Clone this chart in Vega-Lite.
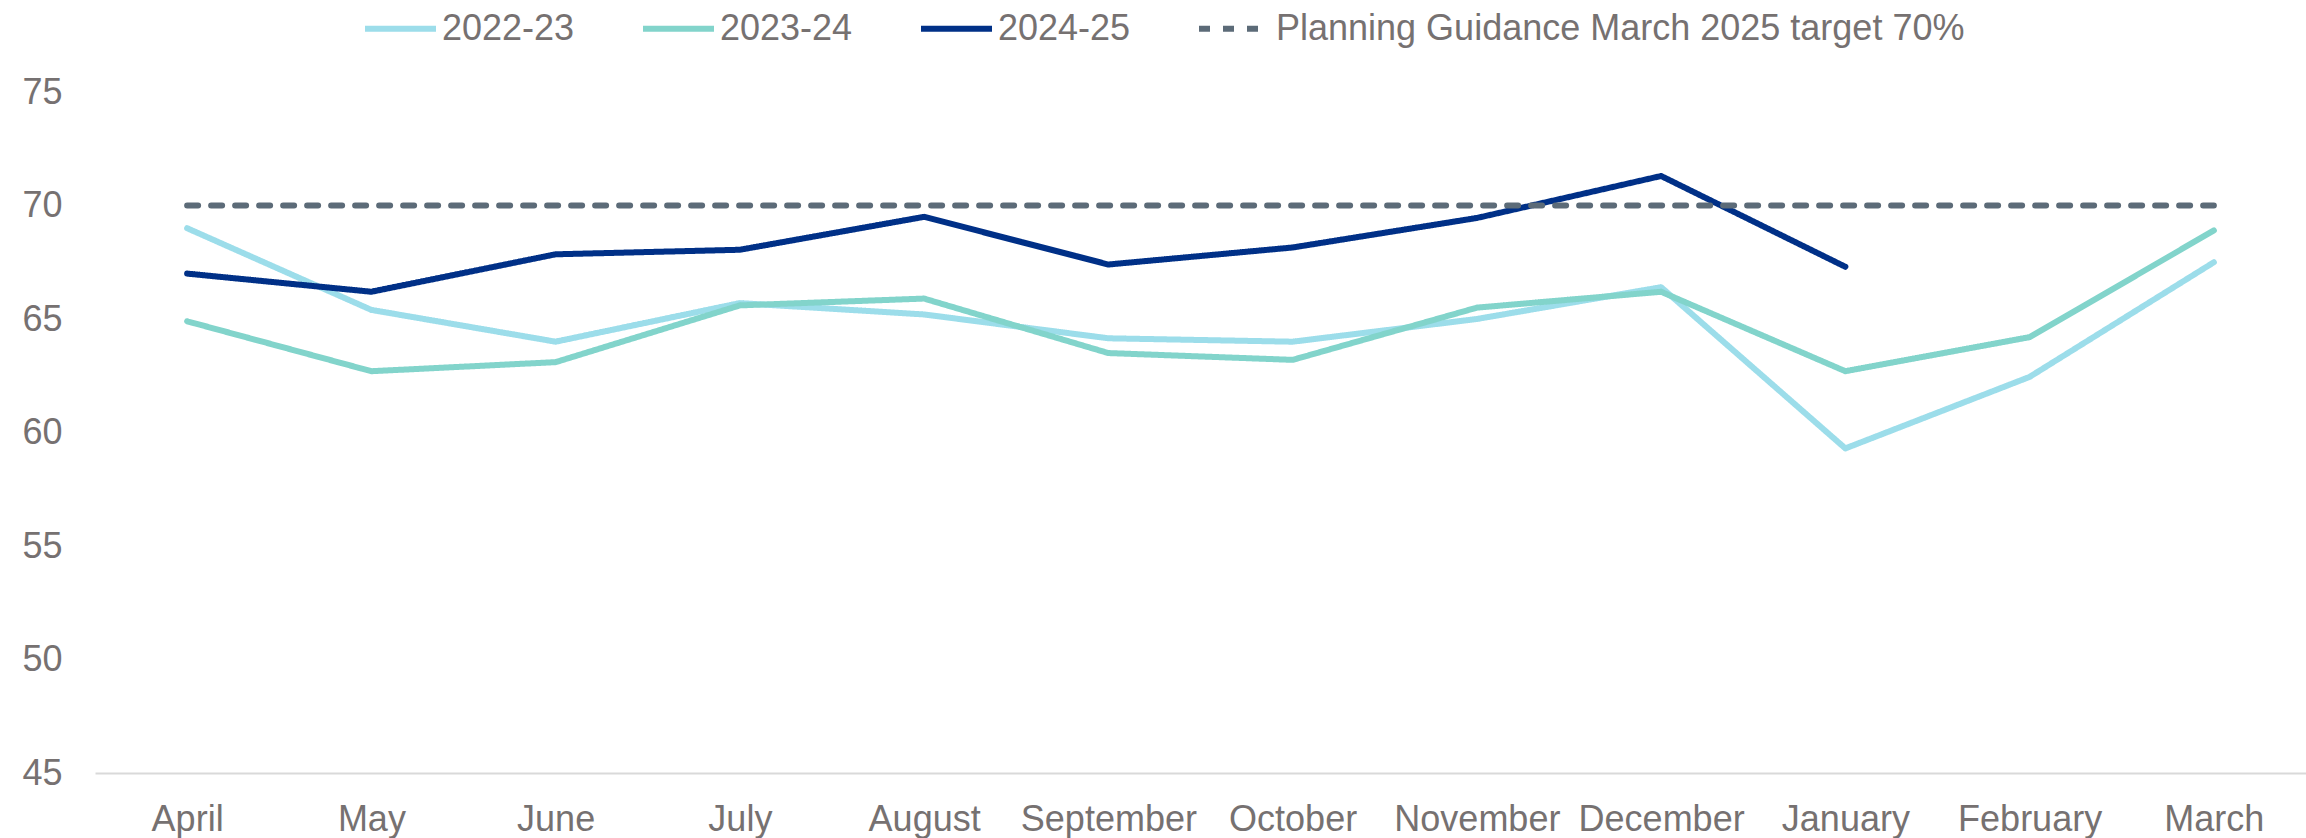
{
  "$schema": "https://vega.github.io/schema/vega-lite/v6.json",
  "autosize": "none",
  "width": 2211,
  "height": 681,
  "padding": {"left": 95, "top": 92, "right": 0, "bottom": 65},
  "background": "white",
  "config": {
    "view": {"stroke": null},
    "font": "Liberation Sans",
    "legend": {
      "orient": "none",
      "legendX": 267,
      "legendY": -102,
      "direction": "horizontal",
      "title": null,
      "labelFont": "Liberation Sans",
      "labelFontSize": 36,
      "labelColor": "#767171",
      "labelOffset": 3,
      "symbolType": "stroke",
      "symbolSize": 5041,
      "symbolStrokeWidth": 6,
      "columnPadding": 56,
      "padding": 0,
      "labelLimit": 1000
    }
  },
  "data": {
    "values": [
      {"month": "April", "series": "2022-23", "value": 69.0},
      {"month": "May", "series": "2022-23", "value": 65.4},
      {"month": "June", "series": "2022-23", "value": 64.0},
      {"month": "July", "series": "2022-23", "value": 65.7},
      {"month": "August", "series": "2022-23", "value": 65.2},
      {"month": "September", "series": "2022-23", "value": 64.15},
      {"month": "October", "series": "2022-23", "value": 64.0},
      {"month": "November", "series": "2022-23", "value": 65.0},
      {"month": "December", "series": "2022-23", "value": 66.4},
      {"month": "January", "series": "2022-23", "value": 59.3},
      {"month": "February", "series": "2022-23", "value": 62.45},
      {"month": "March", "series": "2022-23", "value": 67.5},
      {"month": "April", "series": "2023-24", "value": 64.9},
      {"month": "May", "series": "2023-24", "value": 62.7},
      {"month": "June", "series": "2023-24", "value": 63.1},
      {"month": "July", "series": "2023-24", "value": 65.6},
      {"month": "August", "series": "2023-24", "value": 65.9},
      {"month": "September", "series": "2023-24", "value": 63.5},
      {"month": "October", "series": "2023-24", "value": 63.2},
      {"month": "November", "series": "2023-24", "value": 65.5},
      {"month": "December", "series": "2023-24", "value": 66.2},
      {"month": "January", "series": "2023-24", "value": 62.7},
      {"month": "February", "series": "2023-24", "value": 64.2},
      {"month": "March", "series": "2023-24", "value": 68.9},
      {"month": "April", "series": "2024-25", "value": 67.0},
      {"month": "May", "series": "2024-25", "value": 66.2},
      {"month": "June", "series": "2024-25", "value": 67.85},
      {"month": "July", "series": "2024-25", "value": 68.05},
      {"month": "August", "series": "2024-25", "value": 69.5},
      {"month": "September", "series": "2024-25", "value": 67.4},
      {"month": "October", "series": "2024-25", "value": 68.15},
      {"month": "November", "series": "2024-25", "value": 69.45},
      {"month": "December", "series": "2024-25", "value": 71.3},
      {"month": "January", "series": "2024-25", "value": 67.3},
      {"month": "April", "series": "Planning Guidance March 2025 target 70%", "value": 70},
      {"month": "May", "series": "Planning Guidance March 2025 target 70%", "value": 70},
      {"month": "June", "series": "Planning Guidance March 2025 target 70%", "value": 70},
      {"month": "July", "series": "Planning Guidance March 2025 target 70%", "value": 70},
      {"month": "August", "series": "Planning Guidance March 2025 target 70%", "value": 70},
      {"month": "September", "series": "Planning Guidance March 2025 target 70%", "value": 70},
      {"month": "October", "series": "Planning Guidance March 2025 target 70%", "value": 70},
      {"month": "November", "series": "Planning Guidance March 2025 target 70%", "value": 70},
      {"month": "December", "series": "Planning Guidance March 2025 target 70%", "value": 70},
      {"month": "January", "series": "Planning Guidance March 2025 target 70%", "value": 70},
      {"month": "February", "series": "Planning Guidance March 2025 target 70%", "value": 70},
      {"month": "March", "series": "Planning Guidance March 2025 target 70%", "value": 70}
    ]
  },
  "mark": {"type": "line", "strokeWidth": 6, "strokeCap": "round", "strokeJoin": "round"},
  "encoding": {
    "x": {
      "field": "month",
      "type": "ordinal",
      "sort": ["April", "May", "June", "July", "August", "September", "October", "November", "December", "January", "February", "March"],
      "scale": {"type": "point", "padding": 0.5},
      "axis": {
        "title": null,
        "labelAngle": 0,
        "labelFont": "Liberation Sans",
        "labelFontSize": 36,
        "labelColor": "#767171",
        "labelPadding": 29,
        "ticks": false,
        "tickSize": 0,
        "domain": true,
        "domainColor": "#D9D9D9",
        "domainWidth": 2,
        "grid": false
      }
    },
    "y": {
      "field": "value",
      "type": "quantitative",
      "scale": {"domain": [45, 75], "nice": false, "zero": false},
      "axis": {
        "title": null,
        "values": [45, 50, 55, 60, 65, 70, 75],
        "labelFont": "Liberation Sans",
        "labelFontSize": 36,
        "labelColor": "#767171",
        "labelPadding": 33,
        "ticks": false,
        "tickSize": 0,
        "domain": false,
        "grid": false
      }
    },
    "color": {
      "field": "series",
      "type": "nominal",
      "scale": {
        "domain": ["2022-23", "2023-24", "2024-25", "Planning Guidance March 2025 target 70%"],
        "range": ["#9CDDEA", "#82D4CB", "#003087", "#5C6B78"]
      }
    },
    "strokeDash": {
      "field": "series",
      "type": "nominal",
      "scale": {
        "domain": ["2022-23", "2023-24", "2024-25", "Planning Guidance March 2025 target 70%"],
        "range": [[1, 0], [1, 0], [1, 0], [11, 13]]
      }
    }
  }
}
